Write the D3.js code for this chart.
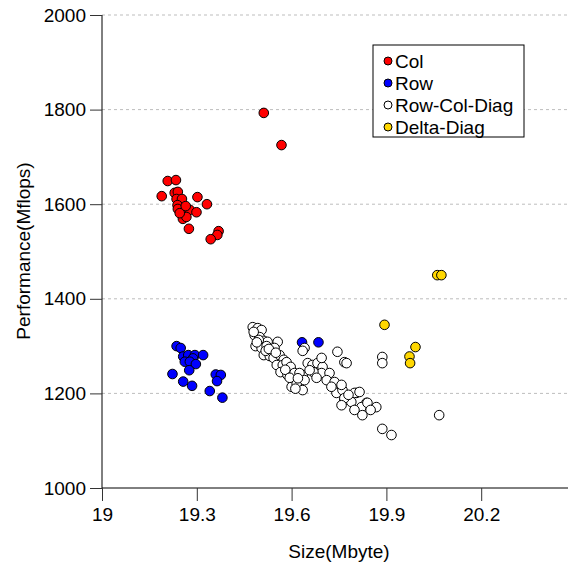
<html>
<head>
    <title>Performance vs size</title>
    <script type="text/javascript" src="https://d3js.org/d3.v7.min.js"></script>
    <style>
        body {
            margin: 0;
            background: white;
            font-family: "Liberation Sans", Arial, sans-serif;
        }

        .grid line {
            stroke: #bdbdbd;
            stroke-dasharray: 3, 3;
        }

        .axis text {
            font-size: 19px;
            fill: black;
        }
    </style>
</head>
<body>
<div id="chart"></div>

<script>
    // Col
    var col = [
        [19.512, 1793], [19.568, 1725], [19.189, 1617], [19.208, 1649], [19.234, 1651],
        [19.230, 1624], [19.240, 1626], [19.236, 1611], [19.253, 1611], [19.302, 1615],
        [19.332, 1600], [19.239, 1598], [19.240, 1590], [19.262, 1586], [19.278, 1588],
        [19.299, 1583], [19.256, 1569], [19.267, 1573], [19.275, 1548], [19.369, 1543],
        [19.365, 1535], [19.344, 1526], [19.246, 1581], [19.265, 1596]
    ];
    // Row
    var row = [
        [19.236, 1300], [19.249, 1296], [19.257, 1278], [19.273, 1281], [19.294, 1281],
        [19.320, 1281], [19.288, 1274], [19.262, 1267], [19.278, 1267], [19.297, 1262],
        [19.276, 1249], [19.223, 1241], [19.257, 1225], [19.285, 1216], [19.360, 1240],
        [19.376, 1239], [19.364, 1226], [19.341, 1205], [19.381, 1191], [19.633, 1308],
        [19.685, 1308]
    ];
    // Row-Col-Diag
    var rowColDiag = [
        [19.477, 1340], [19.493, 1338], [19.505, 1334], [19.483, 1323], [19.499, 1319],
        [19.512, 1311], [19.524, 1309], [19.486, 1300], [19.505, 1296], [19.521, 1300],
        [19.537, 1288], [19.556, 1309], [19.512, 1281], [19.531, 1279], [19.543, 1275],
        [19.562, 1281], [19.575, 1271], [19.553, 1260], [19.572, 1260], [19.584, 1266],
        [19.565, 1245], [19.587, 1239], [19.603, 1228], [19.600, 1214], [19.616, 1220],
        [19.597, 1256], [19.609, 1243], [19.635, 1239], [19.625, 1243], [19.641, 1228],
        [19.635, 1207], [19.496, 1313], [19.518, 1290], [19.546, 1296],
        [19.480, 1330], [19.490, 1308], [19.528, 1294], [19.550, 1286], [19.580, 1250],
        [19.594, 1233], [19.620, 1232], [19.612, 1210],
        [19.641, 1296], [19.635, 1290], [19.651, 1264], [19.666, 1260], [19.682, 1264],
        [19.698, 1256], [19.695, 1275], [19.695, 1243], [19.720, 1243], [19.711, 1228],
        [19.736, 1224], [19.742, 1201], [19.761, 1207], [19.767, 1186], [19.789, 1182],
        [19.805, 1201], [19.837, 1180], [19.821, 1171], [19.745, 1288], [19.767, 1266],
        [19.774, 1264], [19.758, 1218], [19.767, 1190], [19.799, 1201], [19.815, 1203],
        [19.758, 1175], [19.799, 1165], [19.824, 1154], [19.840, 1180], [19.868, 1171],
        [19.887, 1125], [19.916, 1112], [19.887, 1277], [19.887, 1264], [20.067, 1154],
        [19.669, 1245], [19.679, 1233], [19.657, 1249], [19.726, 1214], [19.780, 1197],
        [19.850, 1165]
    ];
    // Delta-Diag
    var deltaDiag = [
        [19.894, 1345], [20.061, 1450], [20.074, 1450], [19.992, 1298], [19.973, 1278],
        [19.975, 1264]
    ];

    var seriesNames = ["Col", "Row", "Row-Col-Diag", "Delta-Diag"];
    var seriesColors = ["#ff0000", "#0000ff", "#ffffff", "#ffd700"];
    var seriesData = [col, row, rowColDiag, deltaDiag];

    var xTicks = [19, 19.3, 19.6, 19.9, 20.2];
    var yTicks = [1000, 1200, 1400, 1600, 1800, 2000];

    var width = 568, height = 568;

    var x = d3.scaleLinear().domain([19, 20.5]).range([102, 576]);
    var y = d3.scaleLinear().domain([1000, 2000]).range([488, 15]);

    var svg = d3.select("#chart")
        .append("svg")
        .attr("width", width)
        .attr("height", height);

    // gridlines
    svg.append("g")
        .attr("class", "grid")
        .selectAll("line")
        .data(yTicks.filter(function (d) { return d > 1000; }))
        .join("line")
        .attr("x1", x(19))
        .attr("x2", width)
        .attr("y1", function (d) { return y(d); })
        .attr("y2", function (d) { return y(d); });

    // axes
    var xAxis = svg.append("g")
        .attr("class", "axis")
        .attr("transform", "translate(0," + y(1000) + ")")
        .call(d3.axisBottom(x).tickValues(xTicks).tickSize(13).tickPadding(7)
            .tickFormat(function (d) { return d3.format("")(+d.toFixed(1)); }));

    var yAxis = svg.append("g")
        .attr("class", "axis")
        .attr("transform", "translate(" + x(19) + ",0)")
        .call(d3.axisLeft(y).tickValues(yTicks).tickSize(12).tickPadding(4)
            .tickFormat(d3.format("d")));

    svg.selectAll(".axis .domain").attr("stroke", "black");
    svg.selectAll(".axis .tick line").attr("stroke", "#333");
    yAxis.select(".domain").attr("d", "M0," + y(1000) + "V" + y(2000));
    xAxis.select(".domain").attr("d", "M" + x(19) + ",0H" + width);

    // axis titles
    svg.append("text")
        .attr("x", 339)
        .attr("y", 558)
        .attr("text-anchor", "middle")
        .style("font-size", "19px")
        .text("Size(Mbyte)");

    svg.append("text")
        .attr("transform", "translate(30," + 251 + ") rotate(-90)")
        .attr("text-anchor", "middle")
        .style("font-size", "19px")
        .text("Performance(Mflops)");

    // points
    seriesData.forEach(function (data, i) {
        svg.append("g")
            .selectAll("circle")
            .data(data)
            .join("circle")
            .attr("cx", function (d) { return x(d[0]); })
            .attr("cy", function (d) { return y(d[1]); })
            .attr("r", 4.8)
            .attr("fill", seriesColors[i])
            .attr("stroke", "black")
            .attr("stroke-width", 1);
    });

    // legend
    var legend = svg.append("g").attr("transform", "translate(373,45)");
    legend.append("rect")
        .attr("width", 151)
        .attr("height", 92)
        .attr("fill", "white")
        .attr("stroke", "black");

    var items = legend.selectAll("g.item")
        .data(seriesNames)
        .join("g")
        .attr("class", "item")
        .attr("transform", function (d, i) { return "translate(0," + (16 + i * 22) + ")"; });

    items.append("circle")
        .attr("cx", 15)
        .attr("cy", 0)
        .attr("r", 4)
        .attr("fill", function (d, i) { return seriesColors[i]; })
        .attr("stroke", "black");

    items.append("text")
        .attr("x", 22)
        .attr("y", 7)
        .style("font-size", "19px")
        .text(function (d) { return d; });
</script>
</body>
</html>
